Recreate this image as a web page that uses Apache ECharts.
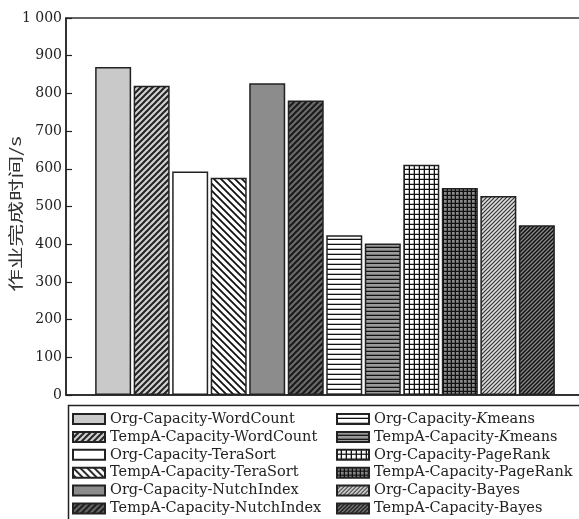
<!DOCTYPE html>
<html>
<head>
<meta charset="utf-8">
<script src="https://cdn.jsdelivr.net/npm/echarts@6/dist/echarts.min.js"></script>
<style>
  html, body { margin: 0; padding: 0; background: #fff; }
  #chart { width: 579px; height: 519px; }
</style>
</head>
<body>
<div id="chart"></div>
<script>
// Job completion time of each workload under the original and TempA capacity schedulers
const categories = [''];
const seriesNames = [
  'Org-Capacity-WordCount', 'TempA-Capacity-WordCount',
  'Org-Capacity-TeraSort', 'TempA-Capacity-TeraSort',
  'Org-Capacity-NutchIndex', 'TempA-Capacity-NutchIndex',
  'Org-Capacity-Kmeans', 'TempA-Capacity-Kmeans',
  'Org-Capacity-PageRank', 'TempA-Capacity-PageRank',
  'Org-Capacity-Bayes', 'TempA-Capacity-Bayes'
];
const jobTimes = [870, 820, 593, 576, 827, 781, 424, 402, 611, 549, 528, 450];
const yAxisName = '作业完成时间/s';

// Fill patterns for the bars (hatching drawn on small repeating tiles)
function tile(bg, fg, size, kind, lw) {
  const c = document.createElement('canvas');
  c.width = c.height = size;
  const g = c.getContext('2d');
  g.fillStyle = bg;
  g.fillRect(0, 0, size, size);
  if (kind) {
    g.strokeStyle = fg;
    g.lineWidth = lw;
    g.beginPath();
    if (kind === 'fwd') {
      g.moveTo(-1, size + 1); g.lineTo(size + 1, -1);
      g.moveTo(-1, 1); g.lineTo(1, -1);
      g.moveTo(size - 1, size + 1); g.lineTo(size + 1, size - 1);
    } else if (kind === 'back') {
      g.moveTo(-1, -1); g.lineTo(size + 1, size + 1);
      g.moveTo(size - 1, -1); g.lineTo(size + 1, 1);
      g.moveTo(-1, size - 1); g.lineTo(1, size + 1);
    } else if (kind === 'horiz') {
      g.moveTo(0, size - lw / 2); g.lineTo(size, size - lw / 2);
    } else if (kind === 'grid') {
      g.moveTo(0, size - lw / 2); g.lineTo(size, size - lw / 2);
      g.moveTo(size - lw / 2, 0); g.lineTo(size - lw / 2, size);
    }
    g.stroke();
  }
  return { image: c, repeat: 'repeat' };
}

const fills = [
  '#c9c9c9',
  tile('#d0d0d0', '#222', 6, 'fwd', 2),
  '#ffffff',
  tile('#ffffff', '#111', 7, 'back', 1.8),
  '#8c8c8c',
  tile('#6a6a6a', '#1a1a1a', 6, 'fwd', 2),
  tile('#ffffff', '#111', 5, 'horiz', 1.3),
  tile('#9c9c9c', '#111', 4, 'horiz', 1.3),
  tile('#ffffff', '#111', 5, 'grid', 1.3),
  tile('#8a8a8a', '#111', 4, 'grid', 1.3),
  tile('#dedede', '#333', 4, 'fwd', 1.2),
  tile('#8a8a8a', '#111', 4, 'fwd', 1.5)
];

const serif = 'DejaVu Serif';
const legendSize = 14.5;

function legendLabel(name) {
  if (name.indexOf('Kmeans') >= 0) {
    return '{a|' + name.replace('Kmeans', '') + '}{i|K}{a|means}';
  }
  return '{a|' + name + '}';
}
const legendText = {
  fontFamily: serif, fontSize: legendSize, color: '#222', lineHeight: 16,
  rich: {
    a: { fontFamily: serif, fontSize: legendSize, color: '#222', lineHeight: 16 },
    i: { fontFamily: serif, fontSize: legendSize, color: '#222', lineHeight: 16, fontStyle: 'italic' }
  }
};
function legendBlock(names, left) {
  return {
    data: names, left: left, top: 411, orient: 'vertical',
    icon: 'rect', itemWidth: 32, itemHeight: 10, itemGap: 1.9, padding: 0,
    selectedMode: false, formatter: legendLabel, textStyle: legendText
  };
}

const chart = echarts.init(document.getElementById('chart'), null, { renderer: 'canvas' });
chart.setOption({
  animation: false,
  backgroundColor: '#fff',
  grid: {
    left: 66, top: 18, right: -5, bottom: 124,
    containLabel: false, outerBoundsMode: 'none',
    show: true, borderColor: '#333', borderWidth: 1.5, backgroundColor: 'transparent'
  },
  xAxis: {
    type: 'category', data: categories,
    axisLine: { lineStyle: { color: '#222', width: 1.5 } },
    axisTick: { show: false }, axisLabel: { show: false }, splitLine: { show: false }
  },
  yAxis: {
    type: 'value', min: 0, max: 1000, interval: 100,
    axisLine: { show: true, lineStyle: { color: '#222', width: 1.5 } },
    axisTick: { show: true, inside: true, length: 6, lineStyle: { color: '#222', width: 1.2 } },
    axisLabel: {
      margin: 4, fontFamily: serif, fontSize: 14, color: '#222',
      formatter: v => v >= 1000 ? String(v).replace(/(\d)(\d{3})$/, '$1 $2') : String(v)
    },
    splitLine: { show: false }
  },
  legend: [
    legendBlock(seriesNames.slice(0, 6), 72),
    legendBlock(seriesNames.slice(6), 336)
  ],
  graphic: [{
    // frame around the legend
    type: 'rect', left: 66, top: 403, silent: true,
    shape: { width: 600, height: 200 },
    style: { fill: 'none', stroke: '#222', lineWidth: 1.5 }
  }, {
    // y-axis title, set in narrow upright glyphs reading bottom to top
    type: 'text', x: 15, y: 214, rotation: Math.PI / 2,
    scaleX: 1.26, scaleY: 0.85, silent: true,
    style: {
      text: yAxisName, fill: '#333', align: 'center', verticalAlign: 'middle',
      font: '18px "Noto Sans CJK SC"'
    }
  }],
  series: seriesNames.map((name, i) => ({
    name: name, type: 'bar', data: [jobTimes[i]],
    barWidth: 36, barGap: '7%',
    itemStyle: { color: fills[i], borderColor: '#222', borderWidth: 1.5 }
  }))
});
</script>
</body>
</html>
